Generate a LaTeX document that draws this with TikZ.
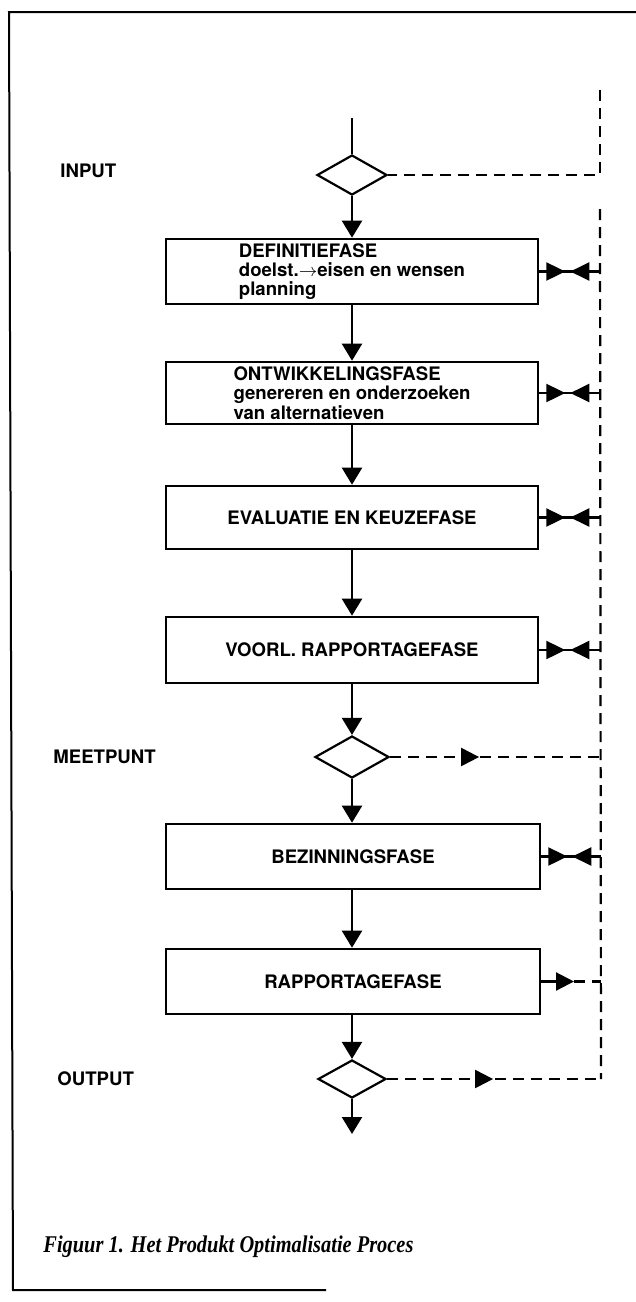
\documentclass[tikz,border=0pt]{standalone}
\usepackage{fontspec}
\setmainfont{TeX Gyre Heros}
\newfontfamily\capfont[FakeStretch=0.85]{Liberation Serif}
\usetikzlibrary{shapes.geometric,arrows.meta,decorations.markings}
\begin{document}
\begin{tikzpicture}[x=0.5pt,y=-0.5pt,
  txt/.style={font=\bfseries\fontsize{9.3}{9.6}\selectfont},
  phase/.style={draw,line width=1.3pt,rectangle,inner sep=0pt,minimum width=186pt,
    align=left,txt},
  dia/.style={draw,diamond,line width=1.1pt,inner sep=0pt},
  flow/.style={line width=1.1pt,-{Triangle[length=8.5pt,width=10pt]}},
  fbdash/.style={line width=1.1pt,dash pattern=on 5.5pt off 3.5pt},
  pair/.style={line width=1.1pt,postaction={decorate},
    decoration={markings,
      mark=at position 13pt with {\arrow{Triangle[length=9.5pt,width=9pt]}},
      mark=at position 15.5pt with {\arrowreversed{Triangle[length=9.5pt,width=9pt]}}}},
  fwdmark/.style={postaction={decorate},
    decoration={markings,
      mark=at position #1 with {\arrow{Triangle[length=9pt,width=9pt]}}}},
  lbl/.style={anchor=west,inner sep=0pt,txt}
]
\useasboundingbox (0,0) rectangle (636,1302);

% frame
\coordinate (fr1) at (636,12);
\coordinate (fr2) at (9,12);
\coordinate (fr3) at (13,1290);
\coordinate (fr4) at (326,1290);
\draw[line width=1pt] (fr1) -- (fr2) -- (fr3) -- (fr4);

% diamonds
\node[dia,minimum width=35pt,minimum height=20pt] (d1) at (352,175) {};
\node[dia,minimum width=37pt,minimum height=21pt] (d2) at (352,757) {};
\node[dia,minimum width=34pt,minimum height=19pt] (d3) at (352,1079) {};

% boxes
\node[phase,minimum height=32.5pt] (b1) at (352,271.5)
  {DEFINITIEFASE\\doelst.$\rightarrow$eisen en wensen\\planning};
\node[phase,minimum height=31pt] (b2) at (352,393)
  {ONTWIKKELINGSFASE\\genereren en onderzoeken\\van alternatieven};
\node[phase,minimum height=31.5pt] (b3) at (352,517.5) {EVALUATIE EN KEUZEFASE};
\node[phase,minimum height=33pt] (b4) at (352,650) {VOORL. RAPPORTAGEFASE};
\node[phase,minimum height=32.5pt,minimum width=187pt] (b5) at (353,856.5) {BEZINNINGSFASE};
\node[phase,minimum height=32.5pt,minimum width=187pt] (b6) at (353,981.5) {RAPPORTAGEFASE};

% labels
\node[lbl] (lin) at (60,171) {INPUT};
\node[lbl] (lmeet) at (53,757) {MEETPUNT};
\node[lbl] (lout) at (57,1079) {OUTPUT};

% spine
\coordinate (in) at (352,118);
\coordinate (out) at (352,1134);
\draw[line width=1.1pt] (in) -- (d1.north);
\draw[flow] (d1.south) -- (b1.north);
\draw[flow] (b1.south) -- (b2.north);
\draw[flow] (b2.south) -- (b3.north);
\draw[flow] (b3.south) -- (b4.north);
\draw[flow] (b4.south) -- (d2.north);
\draw[flow] (d2.south) -- (b5.north -| d2.south);
\draw[flow] (b5.south -| d2.south) -- (b6.north -| d2.south);
\draw[flow] (b6.south -| d3.north) -- (d3.north);
\draw[flow] (d3.south) -- (out);

% dashed feedback line
\coordinate (vtop) at (600,90);
\coordinate (vc) at (600,175);
\coordinate (vs) at (600,209);
\coordinate (ve) at (601,1079);
\draw[fbdash] (vtop) -- (vc) -- (d1.east);
\draw[fbdash] (vs) -- (ve);

% feedback pairs
\coordinate (f1) at (600,271.5);
\coordinate (f2) at (600,393);
\coordinate (f3) at (600,517.5);
\coordinate (f4) at (600,650);
\coordinate (f5) at (601,856.5);
\draw[pair] (b1.east) -- (f1);
\draw[pair] (b2.east) -- (f2);
\draw[pair] (b3.east) -- (f3);
\draw[pair] (b4.east) -- (f4);
\draw[pair] (b5.east) -- (f5);

% rapportage
\coordinate (m6) at (574,981.5);
\coordinate (f6) at (601,981.5);
\draw[line width=1.1pt,-{Triangle[length=9pt,width=9pt]}] (b6.east) -- (m6);
\draw[fbdash] (m6) -- (f6);

% meetpunt and output
\coordinate (f7) at (600,757);
\draw[fbdash,fwdmark=44.5pt] (d2.east) -- (f7);
\draw[fbdash,fwdmark=53pt] (d3.east) -- (ve);

% caption
\node[anchor=base west,inner sep=0pt,font=\capfont\bfseries\itshape\fontsize{12}{14}\selectfont]
  (cap) at (43,1252) {Figuur 1. Het Produkt Optimalisatie Proces};
\end{tikzpicture}
\end{document}
